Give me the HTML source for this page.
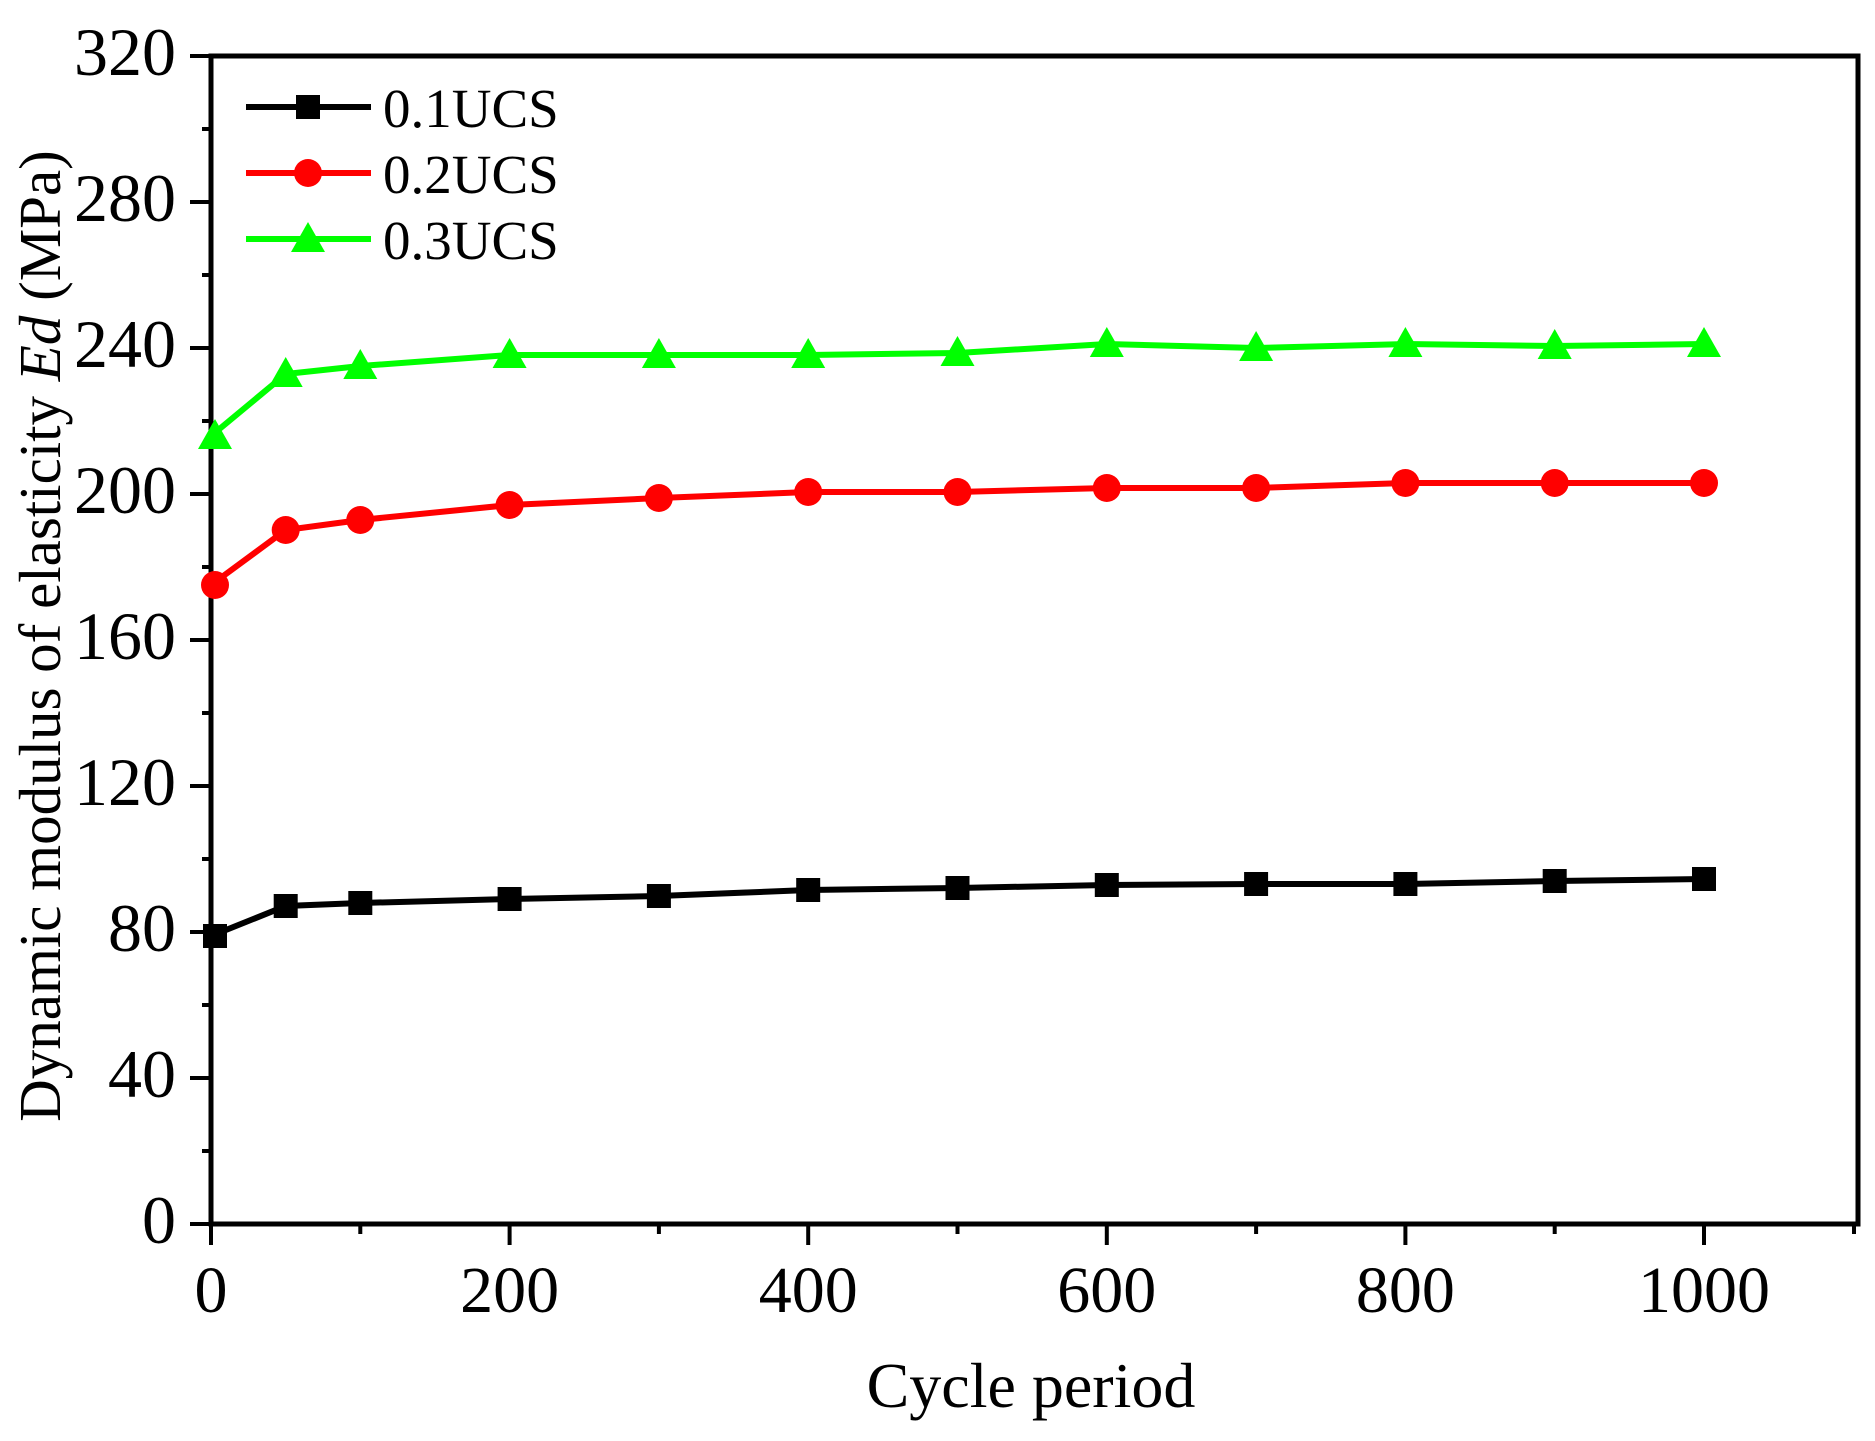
<!DOCTYPE html>
<html><head><meta charset="utf-8"><style>body{margin:0;background:#fff}svg{display:block}</style></head>
<body>
<svg width="1875" height="1441" xmlns="http://www.w3.org/2000/svg" font-family="Liberation Serif, serif">
<rect width="1875" height="1441" fill="#fff"/>
<defs>
<rect id="sq" x="-12" y="-12" width="24" height="24" fill="#000"/>
<circle id="ci" r="14" fill="#f00"/>
<polygon id="tr" points="0,-17 17,13 -17,13" fill="#0f0"/>
</defs>
<g stroke="#000" stroke-width="5" fill="none">
<rect x="211" y="56" width="1647" height="1168"/>
</g>
<g stroke="#000" stroke-width="4">
<line x1="190" y1="1224" x2="211" y2="1224"/><line x1="190" y1="1078" x2="211" y2="1078"/>
<line x1="190" y1="932" x2="211" y2="932"/><line x1="190" y1="786" x2="211" y2="786"/>
<line x1="190" y1="640" x2="211" y2="640"/><line x1="190" y1="494" x2="211" y2="494"/>
<line x1="190" y1="348" x2="211" y2="348"/><line x1="190" y1="202" x2="211" y2="202"/>
<line x1="190" y1="56" x2="211" y2="56"/>
<line x1="202" y1="1151" x2="211" y2="1151"/><line x1="202" y1="1005" x2="211" y2="1005"/>
<line x1="202" y1="859" x2="211" y2="859"/><line x1="202" y1="713" x2="211" y2="713"/>
<line x1="202" y1="567" x2="211" y2="567"/><line x1="202" y1="421" x2="211" y2="421"/>
<line x1="202" y1="275" x2="211" y2="275"/><line x1="202" y1="129" x2="211" y2="129"/>
<line x1="211" y1="1224" x2="211" y2="1245"/><line x1="509.6" y1="1224" x2="509.6" y2="1245"/>
<line x1="808.2" y1="1224" x2="808.2" y2="1245"/><line x1="1106.8" y1="1224" x2="1106.8" y2="1245"/>
<line x1="1405.4" y1="1224" x2="1405.4" y2="1245"/><line x1="1704" y1="1224" x2="1704" y2="1245"/>
<line x1="360.3" y1="1224" x2="360.3" y2="1234"/><line x1="658.9" y1="1224" x2="658.9" y2="1234"/>
<line x1="957.5" y1="1224" x2="957.5" y2="1234"/><line x1="1256.1" y1="1224" x2="1256.1" y2="1234"/>
<line x1="1554.7" y1="1224" x2="1554.7" y2="1234"/><line x1="1854" y1="1224" x2="1854" y2="1234"/>
</g>
<g font-size="68" text-anchor="end" fill="#000">
<text x="176" y="1243">0</text><text x="176" y="1097">40</text><text x="176" y="951">80</text>
<text x="176" y="805">120</text><text x="176" y="659">160</text><text x="176" y="513">200</text>
<text x="176" y="367">240</text><text x="176" y="221">280</text><text x="176" y="75">320</text>
</g>
<g font-size="66" text-anchor="middle" fill="#000">
<text x="211" y="1312">0</text><text x="509.6" y="1312">200</text><text x="808.2" y="1312">400</text>
<text x="1106.8" y="1312">600</text><text x="1405.4" y="1312">800</text><text x="1704" y="1312">1000</text>
<text x="1031" y="1407" font-size="64">Cycle period</text>
</g>
<text transform="translate(60,636) rotate(-90)" font-size="59" text-anchor="middle">Dynamic modulus of elasticity <tspan font-style="italic">Ed</tspan> (MPa)</text>
<polyline fill="none" stroke="#000" stroke-width="6" points="211,936 285.7,906 360.3,903 509.6,899 658.9,896 808.2,890 957.5,888 1106.8,885 1256.1,884 1405.4,884 1554.7,881 1704,879"/>
<g>
<use href="#sq" x="215" y="936"/><use href="#sq" x="285.7" y="906"/><use href="#sq" x="360.3" y="903"/><use href="#sq" x="509.6" y="899"/><use href="#sq" x="658.9" y="896"/><use href="#sq" x="808.2" y="890"/><use href="#sq" x="957.5" y="888"/><use href="#sq" x="1106.8" y="885"/><use href="#sq" x="1256.1" y="884"/><use href="#sq" x="1405.4" y="884"/><use href="#sq" x="1554.7" y="881"/><use href="#sq" x="1704" y="879"/>
</g>
<polyline fill="none" stroke="#f00" stroke-width="6" points="211,585 285.7,530 360.3,520 509.6,505 658.9,498 808.2,492 957.5,492 1106.8,488 1256.1,488 1405.4,483 1554.7,483 1704,483"/>
<g>
<use href="#ci" x="215" y="585"/><use href="#ci" x="285.7" y="530"/><use href="#ci" x="360.3" y="520"/><use href="#ci" x="509.6" y="505"/><use href="#ci" x="658.9" y="498"/><use href="#ci" x="808.2" y="492"/><use href="#ci" x="957.5" y="492"/><use href="#ci" x="1106.8" y="488"/><use href="#ci" x="1256.1" y="488"/><use href="#ci" x="1405.4" y="483"/><use href="#ci" x="1554.7" y="483"/><use href="#ci" x="1704" y="483"/>
</g>
<polyline fill="none" stroke="#0f0" stroke-width="6" points="211,436 285.7,374 360.3,366 509.6,355 658.9,355 808.2,355 957.5,353 1106.8,344 1256.1,348 1405.4,344 1554.7,346 1704,344"/>
<g>
<use href="#tr" x="215" y="436"/><use href="#tr" x="285.7" y="374"/><use href="#tr" x="360.3" y="366"/><use href="#tr" x="509.6" y="355"/><use href="#tr" x="658.9" y="355"/><use href="#tr" x="808.2" y="355"/><use href="#tr" x="957.5" y="353"/><use href="#tr" x="1106.8" y="344"/><use href="#tr" x="1256.1" y="348"/><use href="#tr" x="1405.4" y="344"/><use href="#tr" x="1554.7" y="346"/><use href="#tr" x="1704" y="344"/>
</g>
<line x1="246" y1="107" x2="371" y2="107" stroke="#000" stroke-width="6"/><use href="#sq" x="308" y="107"/>
<line x1="246" y1="173" x2="371" y2="173" stroke="#f00" stroke-width="6"/><use href="#ci" x="308" y="173"/>
<line x1="246" y1="239" x2="371" y2="239" stroke="#0f0" stroke-width="6"/><use href="#tr" x="308" y="239"/>
<g font-size="55" fill="#000">
<text x="383" y="127">0.1UCS</text><text x="383" y="193">0.2UCS</text><text x="383" y="259">0.3UCS</text>
</g>
</svg>
</body></html>
